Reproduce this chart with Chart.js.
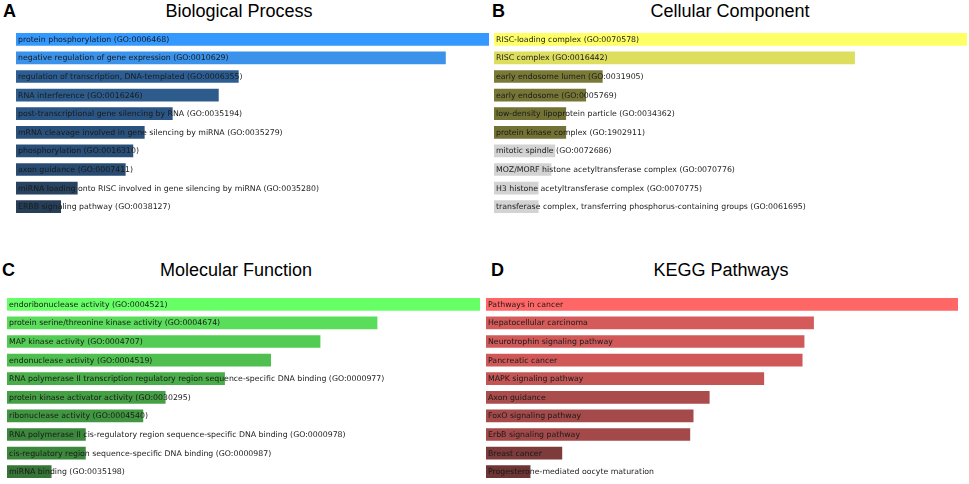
<!DOCTYPE html>
<html>
<head>
<meta charset="utf-8">
<script src="https://cdn.jsdelivr.net/npm/chart.js@4"></script>
<style>
    body { margin: 0; background: #fff; }
    #wrap { position: relative; width: 969px; height: 484px; overflow: hidden; }
    .panel-canvas { position: absolute; }
    .letter { position: absolute; font: bold 18px "Liberation Sans", Arial, sans-serif; line-height: 20px; color: #000; }
    .title { position: absolute; font: 18px "Liberation Sans", Arial, sans-serif; line-height: 20px; color: #000; white-space: nowrap; transform: translateX(-50%); }
</style>
</head>
<body>
<div id="wrap">
    <div class="letter" style="left:3px; top:1px;">A</div>
    <div class="title" style="left:239px; top:1px;">Biological Process</div>
    <div class="letter" style="left:492px; top:1px;">B</div>
    <div class="title" style="left:730px; top:1px;">Cellular Component</div>
    <div class="letter" style="left:2px; top:260px;">C</div>
    <div class="title" style="left:236px; top:260px;">Molecular Function</div>
    <div class="letter" style="left:491px; top:260px;">D</div>
    <div class="title" style="left:721px; top:260px;">KEGG Pathways</div>

    <canvas id="chartBP" class="panel-canvas" style="left:15px; top:30px;" width="475" height="186"></canvas>
    <canvas id="chartCC" class="panel-canvas" style="left:493px; top:30px;" width="475" height="186"></canvas>
    <canvas id="chartMF" class="panel-canvas" style="left:6px; top:295px;" width="475" height="186"></canvas>
    <canvas id="chartKEGG" class="panel-canvas" style="left:485px; top:295px;" width="474" height="186"></canvas>
</div>

<script>
// ============================================
// DATA (relative enrichment score, top term = 100)
// ============================================

const bpTerms = [
    'protein phosphorylation (GO:0006468)',
    'negative regulation of gene expression (GO:0010629)',
    'regulation of transcription, DNA-templated (GO:0006355)',
    'RNA interference (GO:0016246)',
    'post-transcriptional gene silencing by RNA (GO:0035194)',
    'mRNA cleavage involved in gene silencing by miRNA (GO:0035279)',
    'phosphorylation (GO:0016310)',
    'axon guidance (GO:0007411)',
    'miRNA loading onto RISC involved in gene silencing by miRNA (GO:0035280)',
    'ERBB signaling pathway (GO:0038127)'
];
const bpScores = [100, 90.9, 47.3, 43.1, 33.4, 27.5, 25.1, 23.5, 13.4, 9.9];

const ccTerms = [
    'RISC-loading complex (GO:0070578)',
    'RISC complex (GO:0016442)',
    'early endosome lumen (GO:0031905)',
    'early endosome (GO:0005769)',
    'low-density lipoprotein particle (GO:0034362)',
    'protein kinase complex (GO:1902911)',
    'mitotic spindle (GO:0072686)',
    'MOZ/MORF histone acetyltransferase complex (GO:0070776)',
    'H3 histone acetyltransferase complex (GO:0070775)',
    'transferase complex, transferring phosphorus-containing groups (GO:0061695)'
];
const ccScores = [100, 76.4, 23.3, 19.8, 15.6, 15.6, 13.3, 12.5, 9.8, 9.8];

const mfTerms = [
    'endoribonuclease activity (GO:0004521)',
    'protein serine/threonine kinase activity (GO:0004674)',
    'MAP kinase activity (GO:0004707)',
    'endonuclease activity (GO:0004519)',
    'RNA polymerase II transcription regulatory region sequence-specific DNA binding (GO:0000977)',
    'protein kinase activator activity (GO:0030295)',
    'ribonuclease activity (GO:0004540)',
    'RNA polymerase II cis-regulatory region sequence-specific DNA binding (GO:0000978)',
    'cis-regulatory region sequence-specific DNA binding (GO:0000987)',
    'miRNA binding (GO:0035198)'
];
const mfScores = [100, 78.4, 66.4, 56.0, 46.3, 33.8, 29.1, 17.0, 17.0, 9.8];

const keggTerms = [
    'Pathways in cancer',
    'Hepatocellular carcinoma',
    'Neurotrophin signaling pathway',
    'Pancreatic cancer',
    'MAPK signaling pathway',
    'Axon guidance',
    'FoxO signaling pathway',
    'ErbB signaling pathway',
    'Breast cancer',
    'Progesterone-mediated oocyte maturation'
];
const keggScores = [100, 69.6, 67.6, 67.2, 59.1, 47.6, 44.2, 43.5, 16.5, 9.8];

// bar colours per panel
const bpColors = ['#3399ff', '#3a92ea', '#2d5e93', '#2c5b8c', '#2b5584', '#2a517c', '#294e77', '#284b72', '#27435f', '#263e58'];
const ccColors = ['#ffff66', '#dddd5e', '#7a7a38', '#767636', '#727234', '#727234', '#d3d3d3', '#d3d3d3', '#d3d3d3', '#d3d3d3'];
const mfColors = ['#66ff66', '#5add5a', '#53cc53', '#4fbf4f', '#49ad49', '#45a045', '#419741', '#3b873b', '#3b873b', '#367536'];
const keggColors = ['#ff6666', '#d55a5a', '#d15959', '#d05858', '#c35555', '#ab4c4c', '#a44a4a', '#a34949', '#7e3b3b', '#6e3535'];

// Write term name inside each bar, starting at the bar base
const insideLabels = {
    id: 'insideLabels',
    afterDatasetsDraw(chart) {
        const ctx = chart.ctx;
        const meta = chart.getDatasetMeta(0);
        ctx.save();
        ctx.font = '7.8px "DejaVu Sans", sans-serif';
        ctx.fillStyle = '#1a1a1a';
        ctx.textBaseline = 'middle';
        meta.data.forEach((bar, i) => {
            ctx.fillText(chart.data.labels[i], bar.base + 3, bar.y + 0.5);
        });
        ctx.restore();
    }
};

function makeChart(id, terms, scores, colors) {
    const ctx = document.getElementById(id).getContext('2d');
    return new Chart(ctx, {
        type: 'bar',
        data: {
            labels: terms,
            datasets: [{
                data: scores,
                backgroundColor: colors,
                borderColor: 'rgba(255,255,255,0.3)',
                borderWidth: 1,
                borderSkipped: false,
                categoryPercentage: 1,
                barPercentage: 0.79
            }]
        },
        options: {
            indexAxis: 'y',
            responsive: false,
            animation: false,
            layout: { padding: 0 },
            plugins: {
                legend: { display: false },
                tooltip: { enabled: false }
            },
            scales: {
                x: { display: false, min: 0, max: 100 },
                y: { display: false }
            }
        },
        plugins: [insideLabels]
    });
}

makeChart('chartBP', bpTerms, bpScores, bpColors);
makeChart('chartCC', ccTerms, ccScores, ccColors);
makeChart('chartMF', mfTerms, mfScores, mfColors);
makeChart('chartKEGG', keggTerms, keggScores, keggColors);
</script>
</body>
</html>
